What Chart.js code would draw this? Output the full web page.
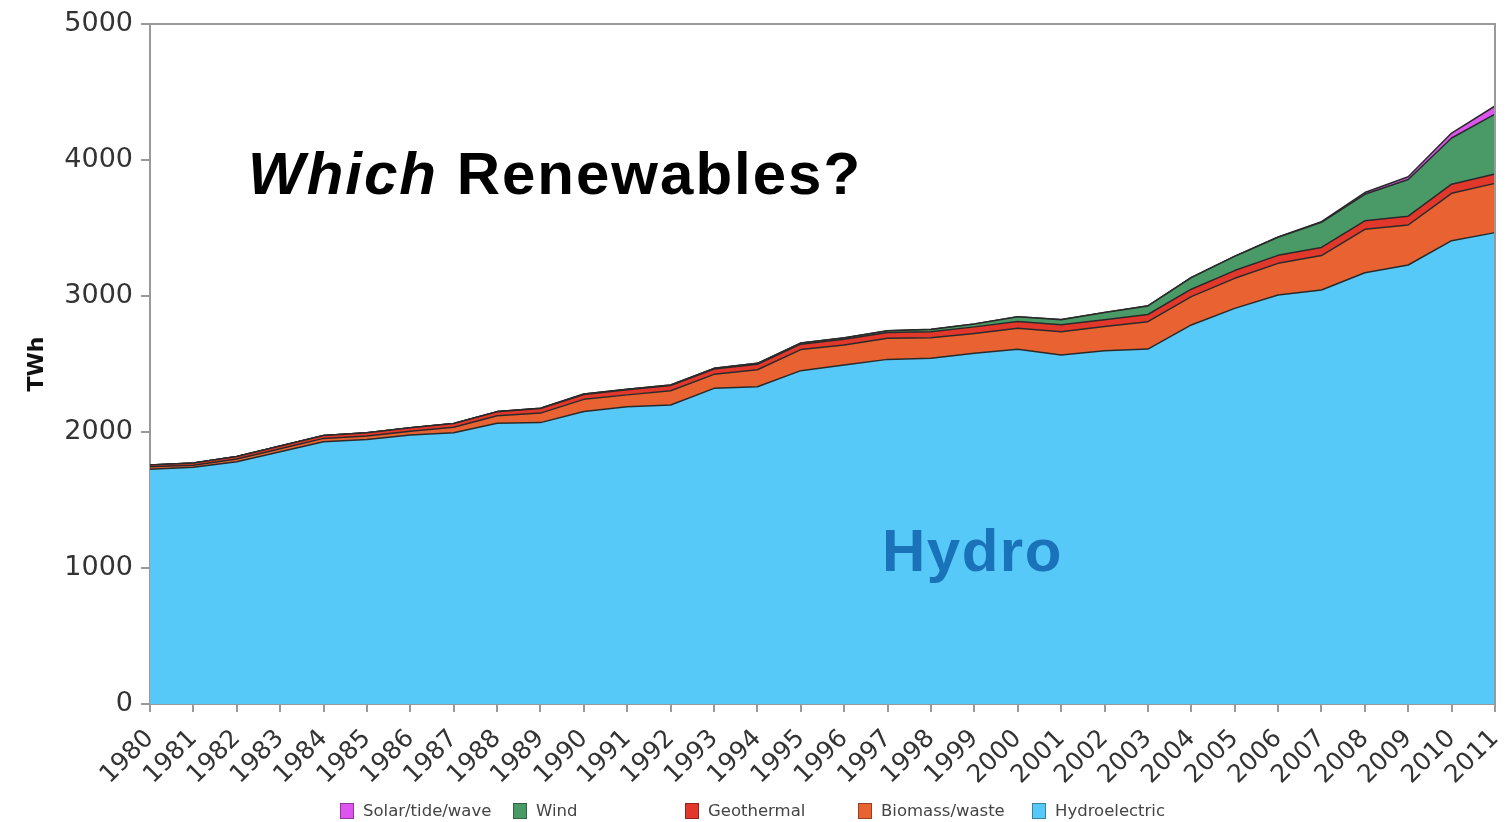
<!DOCTYPE html>
<html>
<head>
<meta charset="utf-8">
<script src="https://cdn.jsdelivr.net/npm/chart.js@4"></script>
<style>
  html, body { margin: 0; padding: 0; background: #fff; }
  #wrap { position: relative; width: 1510px; height: 822px; overflow: hidden; }
  canvas { position: absolute; left: 0; top: 0; }
  .title { position: absolute; left: 248px; top: 144px; font-family: "Liberation Sans", Arial, sans-serif; font-weight: bold; font-size: 60px; line-height: 60px; letter-spacing: 2px; color: #000; white-space: nowrap; }
  .hydro { position: absolute; left: 882px; top: 521px; font-family: "Liberation Sans", Arial, sans-serif; font-weight: bold; font-size: 60px; line-height: 60px; letter-spacing: 1.5px; color: #1a72b8; white-space: nowrap; }
  .legend { position: absolute; top: 801px; left: 340px; height: 18px; font-family: "DejaVu Sans", sans-serif; font-size: 16.5px; color: #444; }
  .item { position: absolute; top: 0; white-space: nowrap; line-height: 18px; }
  .sw { display: inline-block; width: 14px; height: 16px; vertical-align: middle; margin-right: 9px; box-sizing: border-box; border: 1px solid rgba(0,0,0,0.35); }
  .item span.t { vertical-align: middle; }
</style>
</head>
<body>
<div id="wrap">
  <canvas id="c" width="1510" height="822"></canvas>
  <div class="title"><i>Which</i> Renewables?</div>
  <div class="hydro">Hydro</div>
  <div class="legend" id="legend"></div>
</div>
<script>
const years = ["1980","1981","1982","1983","1984","1985","1986","1987","1988","1989","1990","1991","1992","1993","1994","1995","1996","1997","1998","1999","2000","2001","2002","2003","2004","2005","2006","2007","2008","2009","2010","2011"];

const hydroelectric = [1726,1740,1782,1855,1929,1945,1978,1995,2064,2069,2150,2186,2199,2321,2333,2451,2493,2534,2542,2579,2608,2566,2598,2610,2787,2909,3007,3044,3171,3228,3407,3466];
const biomassWaste  = [18,16,20,22,24,25,28,40,55,70,90,87,104,103,125,155,147,155,151,146,154,172,177,201,208,221,233,253,319,294,348,362];
const geothermal    = [14,16,18,20,22,24,26,28,30,33,36,37,38,39,40,40,42,43,45,48,50,50,51,53,55,57,59,60,63,65,67,69];
const wind          = [0,0,0,0,0,0,0,0,1,2,4,4,5,5,7,8,10,12,16,21,35,38,52,63,85,104,133,185,195,270,340,440];
const solarTideWave = [0,0,0,0,0,0,0,0,0,0,0,0,0,0,0,1,1,1,1,1,1,1,1,1,2,2,3,5,13,20,36,60];

const yTicks = [0,1000,2000,3000,4000,5000];

const seriesNames = ["Solar/tide/wave","Wind","Geothermal","Biomass/waste","Hydroelectric"];
const seriesColors = {
  "Hydroelectric": "#57c9f9",
  "Biomass/waste": "#e96332",
  "Geothermal": "#e2382c",
  "Wind": "#4a9a68",
  "Solar/tide/wave": "#dd55ee"
};

// HTML legend with fixed spacing
const legendX = [0, 173, 345, 518, 692];
const lg = document.getElementById('legend');
seriesNames.forEach((n, i) => {
  const d = document.createElement('div');
  d.className = 'item';
  d.style.left = legendX[i] + 'px';
  d.innerHTML = '<span class="sw" style="background:' + seriesColors[n] + '"></span><span class="t">' + n + '</span>';
  lg.appendChild(d);
});

function ds(label, data, fill) {
  return {
    label: label,
    data: data,
    backgroundColor: seriesColors[label],
    borderColor: '#2a2a2a',
    borderWidth: 1.5,
    pointRadius: 0,
    pointHoverRadius: 0,
    tension: 0,
    fill: fill
  };
}

const frame = {
  id: 'frame',
  afterDraw(chart) {
    const a = chart.chartArea, ctx = chart.ctx;
    ctx.save();
    ctx.strokeStyle = '#999';
    ctx.lineWidth = 2;
    ctx.beginPath();
    ctx.moveTo(a.left - 9, a.top);
    ctx.lineTo(a.right, a.top);
    ctx.lineTo(a.right, a.bottom);
    ctx.stroke();
    ctx.restore();
  }
};

new Chart(document.getElementById('c'), {
  type: 'line',
  data: {
    labels: years,
    datasets: [
      ds("Hydroelectric", hydroelectric, 'origin'),
      ds("Biomass/waste", biomassWaste, '-1'),
      ds("Geothermal", geothermal, '-1'),
      ds("Wind", wind, '-1'),
      ds("Solar/tide/wave", solarTideWave, '-1')
    ]
  },
  options: {
    responsive: false,
    animation: false,
    layout: { padding: { top: 24, right: 15, left: 0, bottom: 0 } },
    plugins: { legend: { display: false }, tooltip: { enabled: false } },
    elements: { line: { borderJoinStyle: 'round' } },
    scales: {
      x: {
        offset: false,
        grid: { drawOnChartArea: false, tickLength: 8, color: '#999', lineWidth: 2 },
        border: { color: '#999', width: 2 },
        ticks: {
          autoSkip: false, maxRotation: 45, minRotation: 45, padding: 12,
          color: '#333', font: { family: 'DejaVu Sans', size: 25 }
        },
        afterFit(scale) { scale.height = 118; scale.paddingRight = 0; scale.paddingLeft = 0; }
      },
      y: {
        stacked: true,
        min: 0, max: 5000,
        afterBuildTicks(scale) { scale.ticks = yTicks.map(v => ({ value: v })); },
        grid: { drawOnChartArea: false, tickLength: 9, color: '#999', lineWidth: 2 },
        border: { color: '#999', width: 2 },
        ticks: { padding: 8, color: '#333', font: { family: 'DejaVu Sans', size: 27 }, callback: v => String(v) },
        title: { display: true, text: 'TWh', color: '#111', font: { family: 'DejaVu Sans', size: 22, weight: 'bold' }, padding: { top: 24, bottom: 0 } },
        afterFit(scale) { scale.width = 150; scale.paddingTop = 0; scale.paddingBottom = 0; }
      }
    }
  },
  plugins: [frame]
});
</script>
</body>
</html>
